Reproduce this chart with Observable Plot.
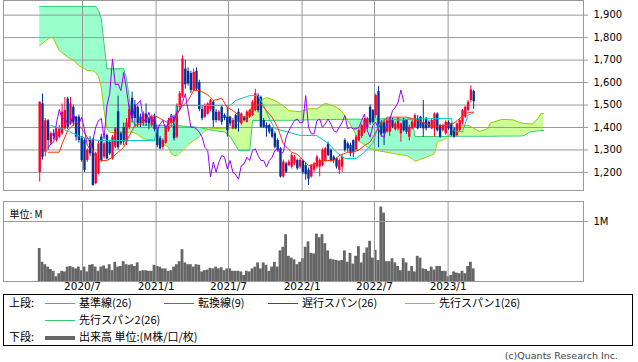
<!DOCTYPE html>
<html lang="ja"><head><meta charset="utf-8">
<script src="https://cdn.jsdelivr.net/npm/d3@7"></script>
<script src="https://cdn.jsdelivr.net/npm/@observablehq/plot@0.6"></script>
<style>
html,body{margin:0;padding:0;background:#fff;}
#wrap{position:relative;width:638px;height:362px;overflow:hidden;font-family:"Noto Sans CJK JP","DejaVu Sans",sans-serif;color:#000;}
#wrap svg{position:absolute;left:0;}
#legend{position:absolute;left:3px;top:294px;width:630px;height:52px;border:1px solid #000;box-sizing:border-box;}
.lg{position:absolute;font-size:11px;line-height:14px;white-space:nowrap;}
.ln{position:absolute;height:1px;}
#cap{position:absolute;right:20px;top:350px;font-family:"DejaVu Sans",sans-serif;font-size:9.5px;line-height:12px;color:#444;}
</style></head><body><div id="wrap"><div id="legend"></div><div id="cap">(c)Quants Research Inc.</div></div>
<script>
// ---- data (weekly, first week 2020-03-16) ----
const firstWeek = "2020-03-16";
const opens = [1200,1505,1290,1430,1330,1372,1342,1357,1372,1394,
1527,1416,1490,1446,1446,1350,1342,1253,1342,1342,
1150,1194,1357,1268,1364,1334,1260,1312,1470,1372,
1400,1335,1400,1530,1500,1490,1446,1416,1460,1438,
1410,1446,1390,1350,1312,1330,1390,1420,1446,1357,
1490,1540,1660,1650,1640,1564,1650,1600,1480,1446,
1460,1480,1512,1468,1431,1490,1453,1446,1446,1394,
1453,1468,1416,1446,1423,1446,1453,1475,1542,1534,
1431,1409,1409,1394,1372,1342,1305,1180,1238,1231,
1224,1238,1253,1224,1250,1230,1210,1180,1210,1224,
1224,1231,1250,1327,1298,1268,1261,1210,1224,1342,
1327,1320,1342,1300,1340,1360,1380,1400,1490,1475,
1453,1560,1423,1420,1380,1379,1431,1390,1394,1372,
1431,1431,1357,1394,1401,1438,1446,1423,1438,1423,
1394,1401,1460,1409,1386,1372,1423,1416,1394,1364,
1386,1420,1446,1475,1520,1560];
const highs = [1515,1549,1440,1435,1380,1390,1395,1410,1505,1534,
1535,1534,1500,1450,1455,1360,1350,1305,1360,1350,
1290,1340,1370,1335,1370,1340,1365,1400,1540,1380,
1420,1440,1500,1557,1520,1495,1460,1470,1505,1445,
1455,1460,1400,1360,1350,1410,1440,1450,1455,1505,
1560,1719,1700,1665,1650,1660,1665,1610,1495,1505,
1510,1525,1520,1480,1475,1495,1460,1490,1450,1440,
1460,1483,1465,1450,1475,1480,1520,1570,1550,1540,
1440,1420,1415,1400,1380,1350,1310,1255,1245,1255,
1285,1275,1260,1262,1255,1240,1220,1235,1245,1275,
1260,1305,1312,1335,1305,1275,1265,1260,1275,1350,
1335,1330,1345,1365,1395,1415,1440,1445,1500,1480,
1549,1582,1430,1430,1440,1446,1440,1425,1445,1420,
1440,1435,1410,1430,1460,1453,1450,1520,1445,1430,
1440,1465,1465,1415,1415,1430,1430,1420,1400,1420,
1440,1480,1495,1520,1586,1565];
const lows = [1157,1255,1270,1298,1320,1345,1335,1350,1365,1390,
1390,1410,1405,1340,1330,1245,1200,1245,1270,1139,
1145,1190,1245,1260,1255,1275,1255,1305,1300,1320,
1320,1320,1390,1420,1400,1400,1400,1405,1405,1390,
1400,1380,1310,1300,1300,1325,1380,1400,1340,1350,
1480,1530,1570,1585,1550,1560,1560,1470,1430,1440,
1455,1470,1400,1420,1425,1410,1430,1357,1405,1390,
1390,1379,1410,1425,1420,1440,1450,1470,1465,1395,
1395,1357,1370,1350,1305,1290,1175,1175,1195,1225,
1215,1230,1210,1215,1190,1165,1142,1175,1200,1215,
1180,1225,1245,1270,1245,1240,1215,1190,1200,1290,
1290,1270,1265,1295,1335,1350,1372,1390,1410,1415,
1440,1310,1357,1320,1375,1360,1395,1385,1385,1335,
1380,1370,1340,1390,1395,1390,1395,1357,1385,1395,
1390,1357,1380,1352,1380,1365,1388,1358,1352,1358,
1380,1410,1440,1470,1510,1480];
const closes = [1512,1268,1430,1342,1372,1360,1380,1394,1468,1475,
1401,1505,1420,1357,1342,1253,1209,1298,1283,1142,
1283,1327,1253,1327,1260,1283,1357,1394,1310,1327,
1335,1420,1480,1440,1440,1416,1416,1460,1420,1416,
1446,1390,1320,1305,1342,1401,1431,1440,1350,1497,
1550,1705,1590,1594,1564,1645,1570,1480,1440,1497,
1505,1520,1430,1431,1468,1423,1440,1386,1416,1431,
1394,1423,1460,1431,1468,1475,1512,1550,1475,1401,
1401,1394,1379,1357,1312,1298,1180,1246,1201,1246,
1275,1268,1216,1253,1200,1190,1170,1230,1238,1268,
1253,1298,1305,1275,1253,1253,1224,1253,1268,1298,
1305,1283,1290,1357,1386,1409,1431,1438,1420,1423,
1542,1400,1372,1372,1430,1438,1401,1416,1438,1416,
1386,1379,1401,1423,1453,1394,1401,1394,1394,1401,
1431,1460,1386,1357,1409,1423,1394,1364,1357,1416,
1431,1475,1490,1512,1567,1515];
const volumes = [0.55,0.32,0.28,0.24,0.20,0.17,0.08,0.13,0.17,0.16,
0.24,0.25,0.23,0.21,0.24,0.18,0.24,0.16,0.27,0.28,
0.24,0.17,0.24,0.26,0.21,0.28,0.18,0.32,0.24,0.25,
0.33,0.28,0.27,0.28,0.25,0.31,0.17,0.18,0.18,0.17,
0.17,0.27,0.25,0.24,0.21,0.21,0.17,0.18,0.24,0.28,
0.33,0.53,0.31,0.28,0.28,0.24,0.28,0.27,0.16,0.18,
0.19,0.22,0.21,0.24,0.21,0.23,0.18,0.21,0.21,0.17,
0.17,0.17,0.16,0.10,0.17,0.16,0.21,0.24,
0.31,0.21,0.31,0.27,0.17,0.24,0.32,0.24,0.51,0.57,
0.78,0.42,0.39,0.36,0.28,0.32,0.38,0.57,0.66,0.47,
0.46,0.79,0.73,0.78,0.63,0.51,0.37,0.36,0.35,0.34,
0.35,0.51,0.32,0.47,0.29,0.42,0.58,0.31,0.47,0.56,
0.67,0.39,0.52,0.35,1.24,1.14,0.33,0.33,0.38,0.31,
0.25,0.18,0.38,0.31,0.17,0.25,0.16,0.42,0.39,0.21,
0.20,0.17,0.24,0.19,0.25,0.25,0.17,0.17,0.08,0.10,
0.16,0.14,0.13,0.17,0.13,0.25,0.32,0.21];

// 基準線 (26)
const kijunWeeks = [4,8,11,15,21,41,42,48,49,68,70,75,78,80,82,84,93,99,103,106,109,113,116,119,121,123,129,133,147,148,151,152,153,155];
const kijunValues = [1409,1394,1379,1357,1342,1342,1409,1409,1498,1498,1520,1542,1542,1497,1440,1395,1365,1364,1330,1290,1262,1262,1290,1330,1410,1437,1433,1438,1440,1385,1380,1420,1455,1465];
// 転換線 (9)
const tenkanWeeks = [3,7,8,10,12,13,15,17,20,22,24,26,28,30,31,34,36,38,41,43,46,48,50,53,55,57,60,62,65,67,69,72,74,76,79,81,83,85,87,90,92,93,96,98,100,105,107,110,112,114,116,118,120,122,124,131,133,138,141,146,148,150,152,154,155];
const tenkanValues = [1290,1290,1327,1387,1410,1424,1395,1357,1268,1253,1253,1268,1290,1312,1340,1409,1416,1440,1453,1440,1420,1424,1483,1520,1565,1565,1545,1520,1530,1490,1475,1446,1446,1490,1505,1475,1446,1400,1327,1290,1280,1268,1231,1235,1253,1253,1275,1290,1290,1300,1320,1335,1379,1416,1446,1446,1440,1416,1405,1410,1420,1440,1462,1468,1468];
// 先行スパン1 / 先行スパン2 (26), read at shared weeks
const spanWeeks = [0,2,4,5,7,10,12,14,17,19,20,21,22,23,24,25,28,30,31,32,33,34,35,37,42,46,47,48,49,51,52,53,55,57,59,61,62,66,68,70,71,73,75,76,78,80,81,84,87,89,93,96,99,102,104,106,108,110,112,113,114,117,120,124,126,131,133,134,138,141,142,145,147,149,153,156,157,160,161,165,169,172,173,175,176,178,179,180];
const span1Values = [1765,1785,1802,1795,1743,1713,1700,1676,1654,1652,1645,1627,1580,1476,1394,1379,1375,1380,1380,1379,1379,1375,1370,1350,1342,1312,1283,1275,1275,1298,1312,1325,1342,1360,1386,1394,1395,1397,1398,1398,1420,1431,1475,1497,1520,1527,1534,1520,1497,1475,1470,1483,1483,1508,1500,1490,1470,1431,1394,1364,1342,1312,1298,1290,1285,1275,1262,1249,1268,1283,1335,1350,1375,1405,1410,1390,1382,1394,1420,1436,1434,1420,1418,1416,1416,1440,1462,1462];
const span2Values = [1939,1939,1939,1939,1939,1939,1939,1939,1939,1939,1939,1920,1884,1770,1661,1661,1661,1661,1620,1530,1440,1412,1412,1412,1410,1408,1408,1408,1408,1406,1405,1404,1402,1400,1395,1389,1387,1380,1360,1320,1298,1298,1298,1431,1431,1431,1431,1432,1432,1432,1433,1434,1434,1435,1435,1436,1436,1437,1437,1437,1437,1437,1438,1438,1438,1438,1438,1360,1360,1360,1360,1360,1361,1361,1361,1361,1361,1361,1361,1362,1362,1362,1365,1380,1382,1385,1386,1387];
// 遅行スパン: close plotted 25 weeks back
const chikouShift = 25, chikouFirst = 3;

const yTicks = [1200,1300,1400,1500,1600,1700,1800,1900];
const yTickLabels = ["1,200","1,300","1,400","1,500","1,600","1,700","1,800","1,900"];
const xTickDates = ["2020-07-01","2021-01-01","2021-07-01","2022-01-01","2022-07-01","2023-01-01"];
const xTickLabels = ["2020/7","2021/1","2021/7","2022/1","2022/7","2023/1"];
const volTicks = [1];
const volTickLabels = ["1M"];

// ---- build ----
const DAY = 864e5;
const t0 = Date.parse(firstWeek + "T00:00:00Z");
const wk = w => new Date(t0 + w * 7 * DAY);
const xDomain = [new Date(Date.UTC(2019,11,16,12)), new Date(Date.UTC(2023,11,5,12))];
const gridDates = xTickDates.map(s => new Date(s + "T00:00:00Z"));

const RED = "#ff0033", BLUE = "#003399";
const candles = opens.map((o,i) => ({date: wk(i), o, h: highs[i], l: lows[i], c: closes[i]}));
const ups = candles.filter(d => d.c >= d.o), downs = candles.filter(d => d.c < d.o);
const kijun = kijunWeeks.map((w,i) => ({date: wk(w), v: kijunValues[i]}));
const tenkan = tenkanWeeks.map((w,i) => ({date: wk(w), v: tenkanValues[i]}));
const spans = spanWeeks.map((w,i) => ({date: wk(w), s1: span1Values[i], s2: span2Values[i]}));
const chikou = [];
for (let i = chikouFirst; i + chikouShift < closes.length; i++) chikou.push({date: wk(i), v: closes[i + chikouShift]});
const vols = volumes.map((v,i) => ({x1: new Date(t0 + (i*7 - 3.5)*DAY), x2: new Date(t0 + (i*7 + 3.5)*DAY), v}));

const svgStyle = {background: "transparent", fontFamily: "'DejaVu Sans','Noto Sans CJK JP',sans-serif", fontSize: "10px", color: "#000", overflow: "visible"};
const GRID = "#999";

const price = Plot.plot({
  width: 638, height: 191,
  marginLeft: 3, marginRight: 55, marginTop: 0, marginBottom: 1,
  x: {type: "utc", domain: xDomain, axis: null},
  y: {domain: [1119.6, 1965.2], axis: null},
  style: svgStyle,
  marks: [
    Plot.areaY(spans, {x: "date", y1: "s1", y2: d => Math.max(d.s1, d.s2), fill: "#99ffcc"}),
    Plot.areaY(spans, {x: "date", y1: "s2", y2: d => Math.max(d.s1, d.s2), fill: "#ccff99"}),
    Plot.ruleY(yTicks, {stroke: GRID, insetRight: -5}),
    Plot.ruleX(gridDates, {stroke: GRID}),
    Plot.line(spans, {x: "date", y: "s1", stroke: "#99cc00", strokeWidth: 1}),
    Plot.line(spans, {x: "date", y: "s2", stroke: "#33cc66", strokeWidth: 1}),
    Plot.ruleX(ups, {x: "date", y1: "l", y2: "h", stroke: RED, strokeWidth: 1}),
    Plot.ruleX(downs, {x: "date", y1: "l", y2: "h", stroke: BLUE, strokeWidth: 1}),
    Plot.ruleX(ups, {x: "date", y1: "o", y2: "c", stroke: RED, strokeWidth: 2.4}),
    Plot.ruleX(downs, {x: "date", y1: "o", y2: "c", stroke: BLUE, strokeWidth: 2.4}),
    Plot.line(kijun, {x: "date", y: "v", stroke: "#00cccc", strokeWidth: 1}),
    Plot.line(tenkan, {x: "date", y: "v", stroke: "#ff3300", strokeWidth: 1}),
    Plot.line(chikou, {x: "date", y: "v", stroke: "#9900ff", strokeWidth: 1}),
    Plot.frame({stroke: GRID}),
    Plot.text(yTicks, {y: d => d, text: (d,i) => yTickLabels[i], frameAnchor: "right", dx: 10, textAnchor: "start", fill: "#000"})
  ]
});
price.style.top = "0px";

const vol = Plot.plot({
  width: 638, height: 104,
  marginLeft: 3, marginRight: 55, marginTop: 10, marginBottom: 14,
  x: {type: "utc", domain: xDomain, axis: null},
  y: {domain: [0, 4/3], axis: null},
  style: svgStyle,
  marks: [
    Plot.rect(vols, {x1: "x1", x2: "x2", y1: () => 0, y2: "v", fill: "#666666"}),
    Plot.ruleX(gridDates, {stroke: GRID}),
    Plot.ruleY(volTicks, {stroke: GRID, insetRight: -5}),
    Plot.frame({stroke: GRID}),
    Plot.text(volTicks, {y: d => d, text: (d,i) => volTickLabels[i], frameAnchor: "right", dx: 10, textAnchor: "start", fill: "#000"}),
    Plot.text(["単位: M"], {frameAnchor: "top-left", dx: 6, dy: 9, textAnchor: "start", fontFamily: "'Noto Sans CJK JP',sans-serif", fill: "#000"}),
    Plot.text(gridDates, {x: d => d, text: (d,i) => xTickLabels[i], frameAnchor: "bottom", dy: 8, fontSize: 10.5, fill: "#000"})
  ]
});
vol.style.top = "191px";

const wrap = document.getElementById("wrap");
wrap.insertBefore(vol, wrap.firstChild);
wrap.insertBefore(price, wrap.firstChild);

// legend
const legendItems = [
  {label: "基準線(26)", color: "#00cccc"},
  {label: "転換線(9)", color: "#ff3300"},
  {label: "遅行スパン(26)", color: "#9900ff"},
  {label: "先行スパン1(26)", color: "#99cc00"},
  {label: "先行スパン2(26)", color: "#33cc66"}
];
const legendVolume = {label: "出来高 単位:(M株/口/枚)", color: "#666666"};
const slots = [[41,0],[160,0],[264,0],[401,0],[41,1]]; // line-left, row
const rowY = [8, 25, 42];
const lg = document.getElementById("legend");
let html = `<div class="lg" style="left:5px;top:${rowY[0]-8}px">上段:</div>`;
legendItems.forEach((it, i) => {
  const [lx, r] = slots[i];
  html += `<div class="ln" style="left:${lx}px;top:${rowY[r]}px;width:30px;background:${it.color}"></div>`;
  html += `<div class="lg" style="left:${lx+34}px;top:${rowY[r]-8}px">${it.label}</div>`;
});
html += `<div class="lg" style="left:5px;top:${rowY[2]-8}px">下段:</div>`;
html += `<div class="ln" style="left:41px;top:${rowY[2]-1}px;width:30px;height:4px;background:${legendVolume.color}"></div>`;
html += `<div class="lg" style="left:75px;top:${rowY[2]-8}px">${legendVolume.label}</div>`;
lg.innerHTML = html;
</script></body></html>
